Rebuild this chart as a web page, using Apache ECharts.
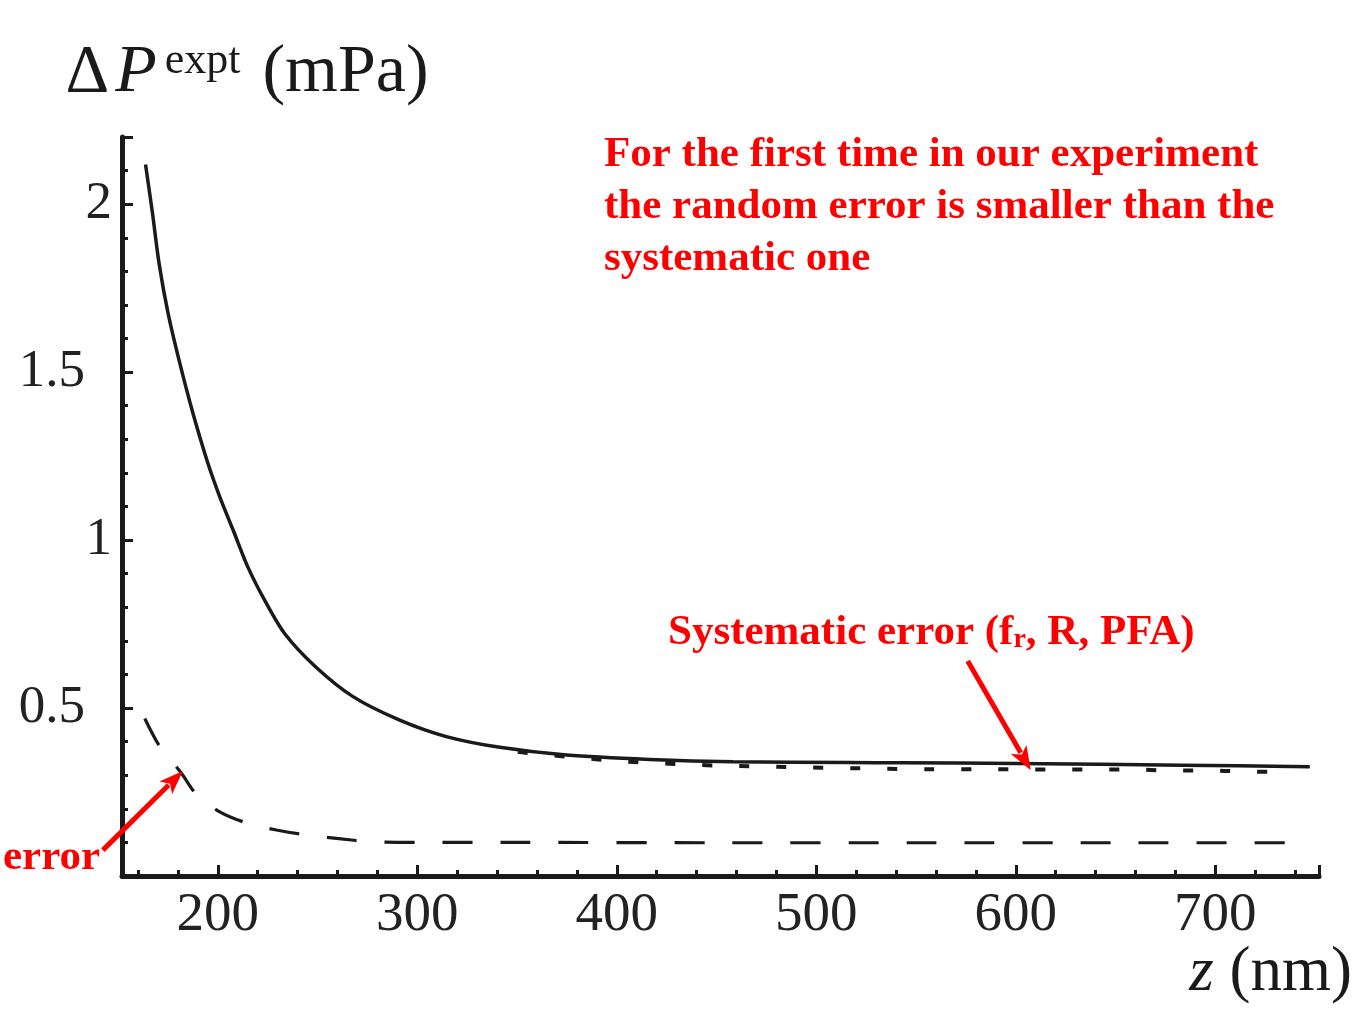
<!DOCTYPE html>
<html>
<head>
<meta charset="utf-8">
<script src="https://cdn.jsdelivr.net/npm/echarts@6/dist/echarts.min.js"></script>
<style>html,body{margin:0;padding:0;background:#fff}#c{width:1360px;height:1013px}</style>
</head>
<body>
<div id="c"></div>
<script>
// ---- data ----
const totalZ = [163.8, 167.3, 170.6, 175.1, 181.0, 187.6, 195.1, 201.0, 207.7, 215.0, 223.5, 233.5, 249.0, 267.8, 291.2, 314.6, 341.4, 374.8, 416.5, 458.3, 516.8, 541.9, 600, 683.8, 747.4];
const totalV = [2.118, 1.972, 1.823, 1.675, 1.526, 1.377, 1.228, 1.129, 1.030, 0.921, 0.821, 0.722, 0.623, 0.534, 0.464, 0.415, 0.383, 0.360, 0.347, 0.340, 0.338, 0.337, 0.335, 0.330, 0.325];

const systZ = [350.4, 362, 380, 399, 417, 435.6, 455, 480, 498, 517.6, 536, 555, 580, 598.6, 618, 636, 655.5, 680.5, 698.7, 718, 736.3];
const systV = [0.370, 0.362, 0.353, 0.343, 0.337, 0.332, 0.328, 0.325, 0.323, 0.321, 0.319, 0.318, 0.318, 0.318, 0.317, 0.317, 0.317, 0.314, 0.314, 0.310, 0.310];

const randZ = [163.4, 171, 181.8, 189.3, 201, 214.4, 229.4, 244.5, 259.5, 277, 300, 350, 450, 550, 650, 736];
const randV = [0.469, 0.385, 0.306, 0.243, 0.191, 0.158, 0.137, 0.122, 0.112, 0.102, 0.100, 0.100, 0.099, 0.099, 0.099, 0.099];

const xLabels = [200, 300, 400, 500, 600, 700];
const yLabels = [0.5, 1, 1.5, 2];

// annotation arrows (data coordinates: [z, value])
const errArrowFrom = [142.4, 0.077], errArrowTo = [182.5, 0.3125];
const sysArrowFrom = [575.9, 0.640], sysArrowTo = [607.5, 0.315];

const zip = (a, b) => a.map((v, i) => [v, b[i]]);
const SERIF = '"Liberation Serif", "Times New Roman", serif';
const INK = '#1a1a1a';

const chart = echarts.init(document.getElementById('c'), null, {renderer: 'canvas'});

const option = {
  backgroundColor: '#ffffff',
  animation: false,
  grid: {left: 122, top: 137, width: 1197, height: 739, containLabel: false, outerBoundsMode: 'none'},
  xAxis: {
    type: 'value', min: 152, max: 752, splitNumber: 6,
    name: '{z|z}{n| (nm)}', nameLocation: 'end', nameGap: 33, nameMoveOverlap: false,
    nameTextStyle: {
      align: 'right', verticalAlign: 'top', padding: [66, 0, 0, 0],
      rich: {
        z: {fontFamily: SERIF, fontStyle: 'italic', fontSize: 63, color: INK},
        n: {fontFamily: SERIF, fontSize: 63, color: INK}
      }
    },
    axisLine: {show: true, onZero: false, lineStyle: {color: INK, width: 5}},
    axisTick: {show: true, inside: true, length: 11, lineStyle: {color: INK, width: 3}},
    minorTick: {show: true, splitNumber: 5, length: 6, lineStyle: {color: INK, width: 3}},
    splitLine: {show: false},
    axisLabel: {
      showMinLabel: false, showMaxLabel: false, margin: 12,
      fontFamily: SERIF, fontSize: 55, color: '#222',
      formatter: v => (xLabels.indexOf(v) >= 0 ? String(v) : '')
    }
  },
  yAxis: {
    type: 'value', min: 0, max: 2.2, interval: 0.5,
    name: '{d|\u0394}{p|P}{s|expt}{u|(mPa)}', nameLocation: 'end', nameGap: 30, nameMoveOverlap: false,
    nameTextStyle: {
      align: 'center', verticalAlign: 'bottom', padding: [0, 0, 0, 250],
      rich: {
        d: {fontFamily: SERIF, fontSize: 68, color: INK, padding: [0, 6, 0, 0]},
        p: {fontFamily: SERIF, fontStyle: 'italic', fontSize: 68, color: INK, padding: [0, 8, 0, 0]},
        s: {fontFamily: SERIF, fontSize: 44, color: INK, verticalAlign: 'top', padding: [0, 22, 0, 0]},
        u: {fontFamily: SERIF, fontSize: 68, color: INK}
      }
    },
    axisLine: {show: true, lineStyle: {color: INK, width: 5}},
    axisTick: {show: true, inside: true, length: 11, lineStyle: {color: INK, width: 3}},
    minorTick: {show: true, splitNumber: 5, length: 6, lineStyle: {color: INK, width: 3}},
    splitLine: {show: false},
    axisLabel: {
      showMinLabel: false, showMaxLabel: false, margin: 10,
      fontFamily: SERIF, fontSize: 53, color: '#222',
      formatter: v => {
        if (yLabels.indexOf(v) < 0) return '';
        return Number.isInteger(v) ? '{i|' + v + '}' : '{f|' + v + '}';
      },
      rich: {
        i: {fontFamily: SERIF, fontSize: 53, color: '#222'},
        f: {fontFamily: SERIF, fontSize: 53, color: '#222', padding: [0, 27, 0, 0]}
      }
    }
  },
  series: [
    {
      name: 'random error', type: 'line', data: zip(randZ, randV), showSymbol: false, smooth: 0.3,
      lineStyle: {color: INK, width: 3.2, type: [30, 28]}, z: 2
    },
    {
      name: 'systematic error', type: 'line', data: zip(systZ, systV), showSymbol: false, smooth: 0.3,
      lineStyle: {color: INK, width: 4, type: [10, 27]}, z: 2
    },
    {
      name: 'total error', type: 'line', data: zip(totalZ, totalV), showSymbol: false, smooth: 0.3,
      lineStyle: {color: INK, width: 3.5}, z: 3
    }
  ],
  graphic: [
    {
      id: 'note', type: 'text', left: 604, top: 129, z: 10,
      style: {
        text: 'For the first time in our experiment\nthe random error is smaller than the\nsystematic one',
        font: 'bold 43px ' + SERIF, fill: '#ff0000', lineHeight: 52
      }
    },
    {
      id: 'sysLabel', type: 'text', left: 668, top: 611, z: 10,
      style: {
        text: '{a|Systematic error (f}{b|r}{a|, R, PFA)}',
        rich: {
          a: {font: 'bold 43px ' + SERIF, fill: '#ff0000', color: '#ff0000'},
          b: {font: 'bold 28px ' + SERIF, fill: '#ff0000', color: '#ff0000', verticalAlign: 'bottom', padding: [15, 0, 0, 0]}
        }
      }
    },
    {
      id: 'errLabel', type: 'text', left: 3, top: 836, z: 10,
      style: {text: 'error', font: 'bold 43px ' + SERIF, fill: '#ff0000'}
    }
  ]
};
chart.setOption(option);

function arrow(id, fromD, toD) {
  const p0 = chart.convertToPixel({gridIndex: 0}, fromD);
  const p1 = chart.convertToPixel({gridIndex: 0}, toD);
  const dx = p1[0] - p0[0], dy = p1[1] - p0[1];
  const L = Math.hypot(dx, dy), ux = dx / L, uy = dy / L;
  const headLen = 24, headW = 9;
  const bx = p1[0] - ux * headLen, by = p1[1] - uy * headLen;
  return [
    {id: id + 'L', type: 'line', z: 11, shape: {x1: p0[0], y1: p0[1], x2: bx + ux * 4, y2: by + uy * 4},
     style: {stroke: '#ff0000', lineWidth: 5}},
    {id: id + 'H', type: 'polygon', z: 11,
     shape: {points: [[p1[0], p1[1]], [bx - uy * headW, by + ux * headW], [bx + ux * 6, by + uy * 6], [bx + uy * headW, by - ux * headW]]},
     style: {fill: '#ff0000'}}
  ];
}
chart.setOption({graphic: [].concat(arrow('ea', errArrowFrom, errArrowTo), arrow('sa', sysArrowFrom, sysArrowTo))});
</script>
</body>
</html>
